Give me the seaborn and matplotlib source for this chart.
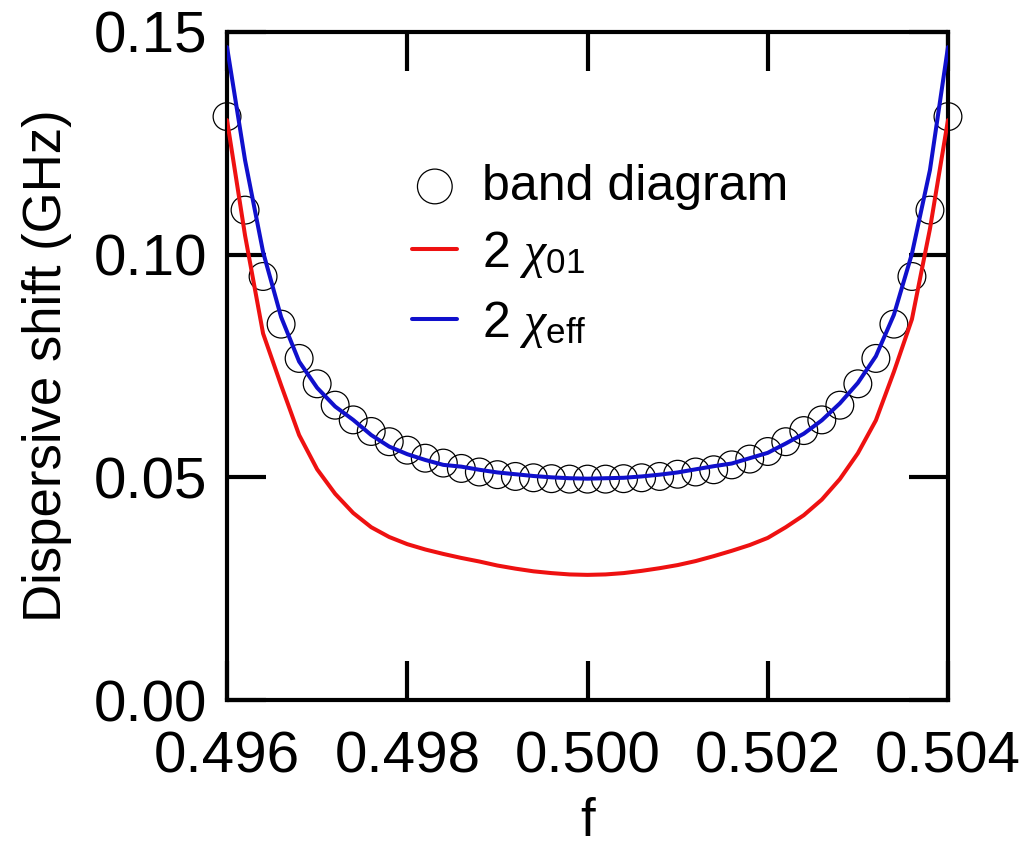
import matplotlib
matplotlib.use('Agg')
import matplotlib.pyplot as plt
import seaborn as sns
import pandas as pd

# flux bias f
f_vals = [0.4960, 0.4962, 0.4964, 0.4966, 0.4968, 0.4970, 0.4972, 0.4974, 0.4976, 0.4978,
          0.4980, 0.4982, 0.4984, 0.4986, 0.4988, 0.4990, 0.4992, 0.4994, 0.4996, 0.4998,
          0.5000, 0.5002, 0.5004, 0.5006, 0.5008, 0.5010, 0.5012, 0.5014, 0.5016, 0.5018,
          0.5020, 0.5022, 0.5024, 0.5026, 0.5028, 0.5030, 0.5032, 0.5034, 0.5036, 0.5038,
          0.5040]

# dispersive shift (GHz) from the band diagram
band_diagram = [0.1310, 0.1100, 0.0951, 0.0844, 0.0767, 0.0710, 0.0662, 0.0629, 0.0603, 0.0580,
                0.0561, 0.0543, 0.0532, 0.0520, 0.0512, 0.0506, 0.0502, 0.0499, 0.0497, 0.0496,
                0.0496, 0.0496, 0.0497, 0.0499, 0.0502, 0.0507, 0.0512, 0.0517, 0.0528, 0.0541,
                0.0558, 0.0580, 0.0605, 0.0629, 0.0662, 0.0710, 0.0767, 0.0844, 0.0951, 0.1100,
                0.1310]

# 2 chi_01
chi_01 = [0.1302, 0.1043, 0.0823, 0.0707, 0.0595, 0.0518, 0.0463, 0.0420, 0.0388, 0.0366,
          0.0350, 0.0338, 0.0328, 0.0319, 0.0311, 0.0302, 0.0295, 0.0289, 0.0285, 0.0282,
          0.0281, 0.0282, 0.0285, 0.0290, 0.0296, 0.0303, 0.0312, 0.0323, 0.0335, 0.0348,
          0.0364, 0.0388, 0.0415, 0.0450, 0.0496, 0.0554, 0.0628, 0.0737, 0.0855, 0.1058,
          0.1302]

# 2 chi_eff
chi_eff = [0.1466, 0.1212, 0.1006, 0.0860, 0.0760, 0.0701, 0.0659, 0.0629, 0.0595, 0.0569,
           0.0552, 0.0539, 0.0528, 0.0524, 0.0517, 0.0511, 0.0507, 0.0503, 0.0500, 0.0498,
           0.0497, 0.0498, 0.0499, 0.0502, 0.0506, 0.0511, 0.0518, 0.0525, 0.0531, 0.0543,
           0.0555, 0.0576, 0.0598, 0.0628, 0.0666, 0.0712, 0.0772, 0.0865, 0.1002, 0.1190,
           0.1466]

xticks = [0.496, 0.498, 0.500, 0.502, 0.504]
yticks = [0.00, 0.05, 0.10, 0.15]

sns.set_style('ticks')
plt.rcParams['font.family'] = ['Liberation Sans', 'DejaVu Sans']
plt.rcParams['text.color'] = 'black'
plt.rcParams['axes.labelcolor'] = 'black'
plt.rcParams['mathtext.fontset'] = 'custom'
plt.rcParams['mathtext.rm'] = 'Liberation Sans'
plt.rcParams['mathtext.it'] = 'Liberation Serif:italic'

df = pd.DataFrame({'f': f_vals, 'band': band_diagram, 'chi01': chi_01, 'chieff': chi_eff})

fig = plt.figure(figsize=(10.19, 8.48), dpi=100)
ax = fig.add_axes([0.2228, 0.1745, 0.7075, 0.7878])

sns.scatterplot(data=df, x='f', y='band', ax=ax, marker='o', s=400,
                facecolors='none', edgecolor='black', linewidth=0.9,
                clip_on=False, zorder=2, label='band diagram')
sns.lineplot(data=df, x='f', y='chi01', ax=ax, color='#ee1111', lw=2.9,
             zorder=3, label=r'2 $\chi_{\mathrm{01}}$')
sns.lineplot(data=df, x='f', y='chieff', ax=ax, color='#1010cc', lw=2.9,
             zorder=3, label=r'2 $\chi_{\mathrm{eff}}$')

ax.set_xlim(0.496, 0.504)
ax.set_ylim(0.0, 0.15)
ax.set_xticks(xticks)
ax.set_yticks(yticks)
ax.set_xticklabels([f'{v:.3f}' for v in xticks])
ax.set_yticklabels([f'{v:.2f}' for v in yticks])
ax.tick_params(direction='in', length=28, width=3, top=True, right=True,
               labelsize=42, colors='black')
ax.tick_params(axis='x', pad=22)
ax.tick_params(axis='y', pad=14)
for sp in ax.spines.values():
    sp.set_linewidth(3)
    sp.set_color('black')

ax.set_xlabel('f', fontsize=38, labelpad=9)
ax.set_ylabel('Dispersive shift (GHz)', fontsize=38, labelpad=16)

ax.legend(loc='upper left', bbox_to_anchor=(0.257, 0.803), frameon=False,
          fontsize=36, handlelength=0.9, handletextpad=0.5, markerscale=1.25,
          labelspacing=0.38, borderaxespad=0, borderpad=0)

fig.savefig('out.png', dpi=100)
